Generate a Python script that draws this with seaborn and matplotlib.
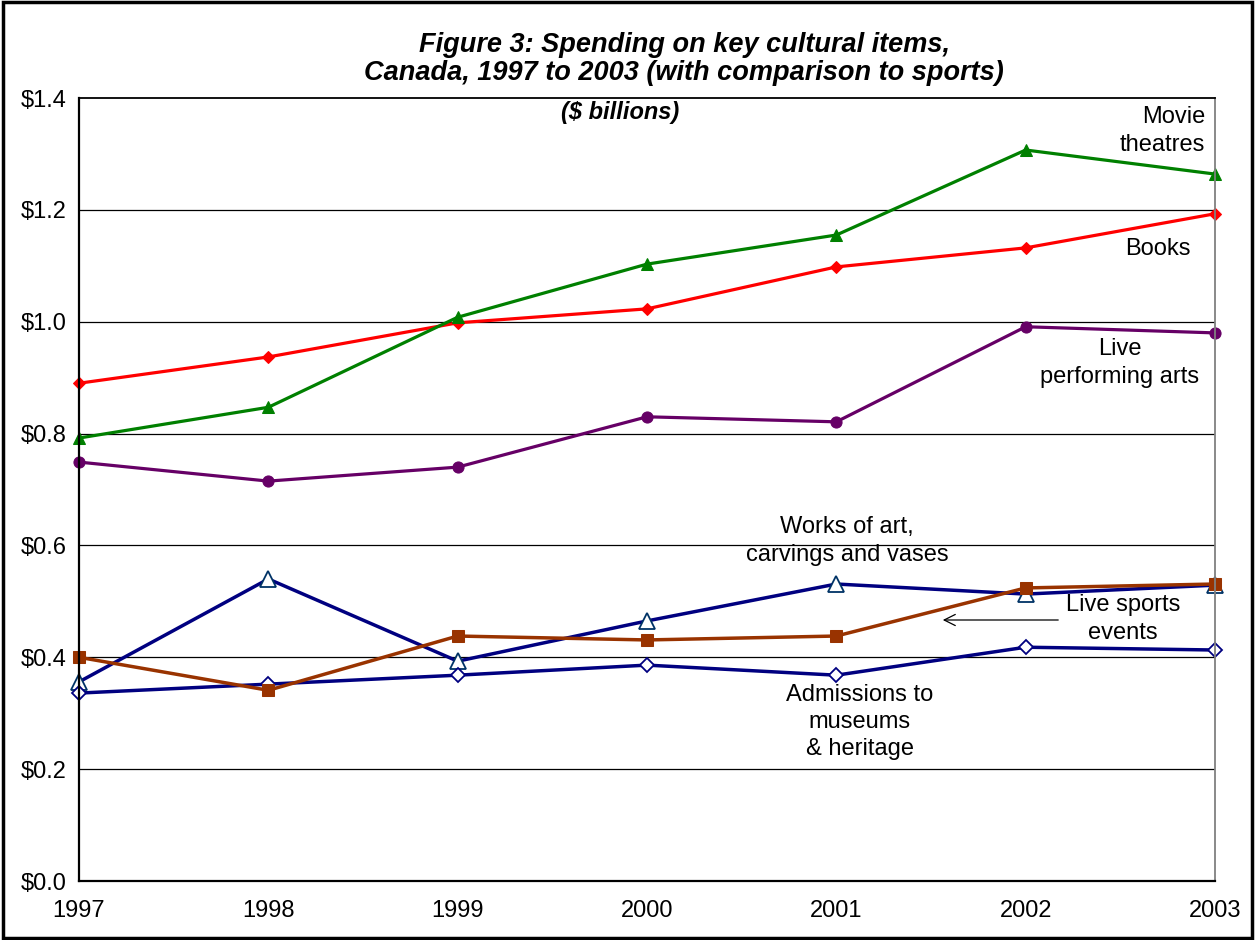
import matplotlib
matplotlib.use("Agg")
import matplotlib.pyplot as plt
import seaborn as sns
import pandas as pd
from matplotlib.patches import Rectangle

years = [1997, 1998, 1999, 2000, 2001, 2002, 2003]
movie_theatres = [0.792, 0.847, 1.008, 1.103, 1.155, 1.307, 1.264]
books = [0.890, 0.937, 0.998, 1.023, 1.098, 1.132, 1.193]
live_performing_arts = [0.749, 0.715, 0.740, 0.830, 0.821, 0.991, 0.980]
works_of_art = [0.356, 0.540, 0.393, 0.465, 0.531, 0.513, 0.529]
live_sports = [0.400, 0.341, 0.438, 0.431, 0.438, 0.524, 0.531]
admissions_museums = [0.336, 0.352, 0.368, 0.386, 0.368, 0.418, 0.413]
y_ticks = [0.0, 0.2, 0.4, 0.6, 0.8, 1.0, 1.2, 1.4]
y_tick_labels = ["$0.0", "$0.2", "$0.4", "$0.6", "$0.8", "$1.0", "$1.2", "$1.4"]

sns.set_theme(style="white")
plt.rcParams['font.family'] = ['Liberation Sans', 'DejaVu Sans']
plt.rcParams['text.color'] = 'black'

fig = plt.figure(figsize=(12.55, 9.4), dpi=100)
ax = fig.add_axes([79/1255, 1 - 881/940, (1215-79)/1255, (881-98)/940])

series = [
    (works_of_art, dict(color="#000080", marker="^", markersize=12, markerfacecolor="white",
                        markeredgecolor="#003366", markeredgewidth=1.3, linewidth=2.5)),
    (admissions_museums, dict(color="#000080", marker="D", markersize=7, markerfacecolor="white",
                              markeredgecolor="#000080", markeredgewidth=1.3, linewidth=2.5)),
    (live_sports, dict(color="#993300", marker="s", markersize=9, markerfacecolor="#993300",
                       markeredgecolor="#993300", linewidth=2.5)),
    (live_performing_arts, dict(color="#660066", marker="o", markersize=8, markerfacecolor="#660066",
                                markeredgecolor="#660066", linewidth=2.3)),
    (books, dict(color="#FF0000", marker="D", markersize=6, markerfacecolor="#FF0000",
                 markeredgecolor="#FF0000", linewidth=2.3)),
    (movie_theatres, dict(color="#008000", marker="^", markersize=9, markerfacecolor="#008000",
                          markeredgecolor="#008000", linewidth=2.3)),
]
for vals, kw in series:
    df = pd.DataFrame({"year": years, "value": vals})
    sns.lineplot(data=df, x="year", y="value", ax=ax, clip_on=False, **kw)

ax.set_xlim(1997, 2003)
ax.set_ylim(0, 1.4)
ax.set_yticks(y_ticks)
ax.set_yticklabels(y_tick_labels)
ax.set_xticks(years)
ax.set_xticklabels([str(y) for y in years])
ax.set_xlabel("")
ax.set_ylabel("")
for yv in y_ticks[1:-1]:
    ax.axhline(yv, color="black", linewidth=0.9, zorder=0)
ax.tick_params(axis="both", which="both", direction="out", length=5, width=1,
               color="black", labelsize=17, labelcolor="black", pad=4)
ax.tick_params(axis="x", pad=9)
for s in ["left", "bottom", "top"]:
    ax.spines[s].set_color("black")
    ax.spines[s].set_linewidth(1.6)
ax.spines["top"].set_linewidth(1.3)
ax.spines["right"].set_color("#808080")
ax.spines["right"].set_linewidth(1.3)

fig.text(684/1255, 1 - 45/940, "Figure 3: Spending on key cultural items,", ha="center", va="center",
         fontsize=19.5, fontweight="bold", fontstyle="italic", color="black")
fig.text(684/1255, 1 - 73/940, "Canada, 1997 to 2003 (with comparison to sports)", ha="center", va="center",
         fontsize=19.5, fontweight="bold", fontstyle="italic", color="black")
fig.text(620/1255, 1 - 113/940, "($ billions)", ha="center", va="center",
         fontsize=17, fontweight="bold", fontstyle="italic", color="black")

fs = 17
ls = 1.3
fig.text(1205/1255, 1 - 131/940, "Movie\ntheatres", ha="right", va="center", fontsize=fs,
         multialignment="right", linespacing=ls, color="black")
fig.text(1158/1255, 1 - 249/940, "Books", ha="center", va="center", fontsize=fs, color="black")
fig.text(1120/1255, 1 - 363/940, "Live\nperforming arts", ha="center", va="center", fontsize=fs,
         linespacing=ls, color="black")
fig.text(847/1255, 1 - 541/940, "Works of art,\ncarvings and vases", ha="center", va="center",
         fontsize=fs, linespacing=ls, color="black")
fig.text(1123/1255, 1 - 619/940, "Live sports\nevents", ha="center", va="center", fontsize=fs,
         linespacing=ls, color="black")
fig.text(860/1255, 1 - 722/940, "Admissions to\nmuseums\n& heritage", ha="center", va="center",
         fontsize=fs, linespacing=ls, color="black")
fig.patches.append(matplotlib.patches.FancyArrowPatch(
    (1061/1255, 1 - 620/940), (940/1255, 1 - 620/940), transform=fig.transFigure,
    arrowstyle="->,head_length=8,head_width=4", color="black", linewidth=0.9, figure=fig))

fig.patches.append(Rectangle((0.002, 0.002), 0.996, 0.996, transform=fig.transFigure,
                             fill=False, edgecolor="black", linewidth=2.5, figure=fig))

fig.savefig("out.png", dpi=100, facecolor="white")
